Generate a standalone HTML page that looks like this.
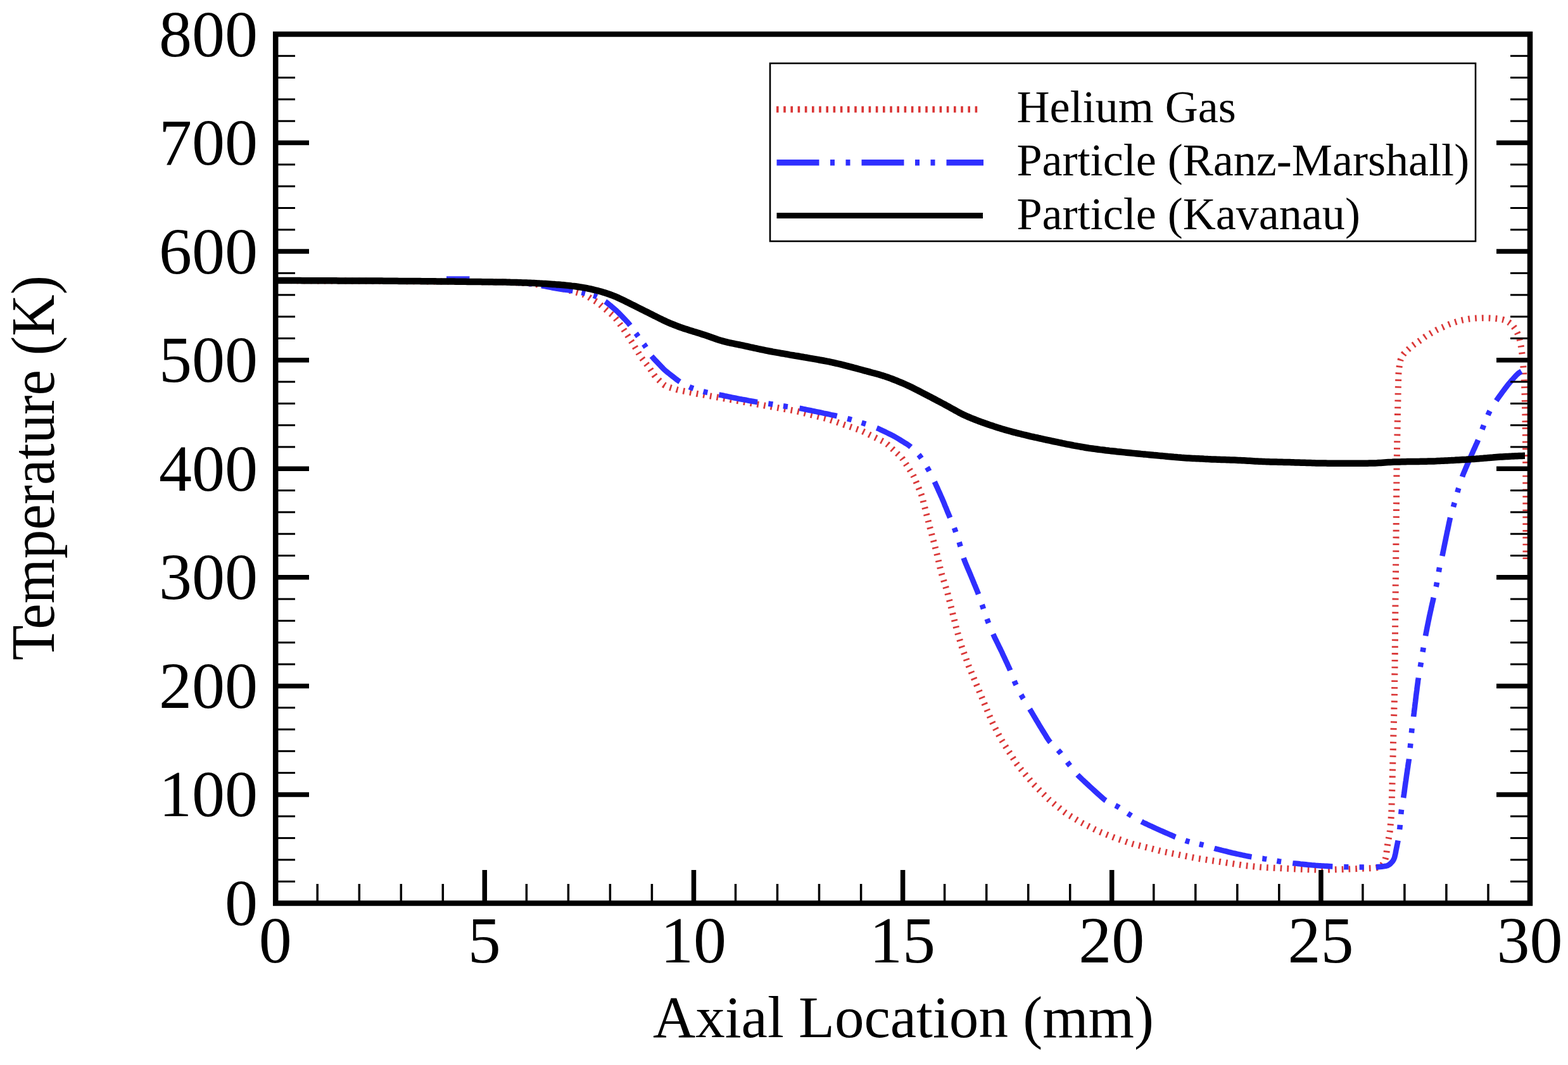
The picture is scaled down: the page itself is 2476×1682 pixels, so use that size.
<!DOCTYPE html>
<html><head><meta charset="utf-8"><title>Temperature vs Axial Location</title>
<style>html,body{margin:0;padding:0;background:#fff;overflow:hidden;}svg{display:block;}</style>
</head><body>
<svg width="2476" height="1682" viewBox="0 0 2476 1682">
<rect width="2476" height="1682" fill="#fff"/>
<defs><clipPath id="pc"><rect x="431" y="50" width="1985" height="1380"/></clipPath></defs>
<g clip-path="url(#pc)" fill="none" stroke-linejoin="round">
<path d="M436.2,443.0 L438.2,443.0 L441.0,443.0 L444.0,443.1 L447.0,443.1 L450.0,443.1 L453.0,443.1 L456.0,443.1 L459.0,443.1 L462.0,443.2 L465.0,443.2 L468.0,443.2 L471.0,443.2 L474.0,443.2 L477.0,443.2 L480.0,443.3 L483.0,443.3 L486.0,443.3 L489.0,443.3 L492.0,443.3 L495.0,443.3 L498.0,443.4 L501.0,443.4 L504.0,443.4 L507.0,443.4 L510.0,443.4 L513.0,443.4 L516.0,443.5 L519.0,443.5 L522.0,443.5 L525.0,443.5 L528.0,443.5 L531.0,443.5 L534.0,443.6 L537.0,443.6 L540.0,443.6 L543.0,443.6 L546.0,443.6 L549.0,443.6 L552.0,443.7 L555.0,443.7 L558.0,443.7 L561.0,443.7 L564.0,443.7 L567.0,443.7 L570.0,443.8 L573.0,443.8 L576.0,443.8 L579.0,443.8 L582.0,443.8 L585.0,443.8 L588.0,443.9 L591.0,443.9 L594.0,443.9 L597.0,443.9 L600.0,443.9 L603.0,444.0 L606.0,444.0 L609.0,444.0 L612.0,444.0 L615.0,444.0 L618.0,444.0 L621.0,444.1 L624.0,444.1 L627.0,444.1 L630.0,444.1 L633.0,444.1 L636.0,444.1 L639.0,444.2 L642.0,444.2 L645.0,444.2 L648.1,444.2 L651.1,444.2 L654.1,444.2 L657.1,444.3 L660.1,444.3 L663.1,444.3 L666.1,444.3 L669.1,444.3 L672.1,444.3 L675.1,444.4 L678.1,444.4 L681.1,444.4 L684.1,444.4 L687.1,444.4 L690.1,444.4 L693.1,444.5 L696.1,444.5 L699.1,444.5 L702.1,444.5 L705.1,444.6 L708.1,444.6 L711.1,444.6 L714.1,444.7 L717.1,444.7 L720.1,444.7 L723.1,444.8 L726.1,444.8 L729.1,444.8 L732.1,444.9 L735.1,444.9 L738.1,444.9 L741.1,445.0 L744.1,445.0 L747.1,445.0 L750.1,445.1 L753.1,445.1 L756.1,445.1 L759.1,445.1 L762.1,445.2 L765.1,445.2 L768.1,445.2 L771.1,445.3 L774.1,445.3 L777.1,445.3 L780.1,445.4 L783.1,445.4 L786.1,445.4 L789.1,445.5 L792.1,445.5 L795.1,445.5 L798.1,445.6 L801.1,445.7 L804.1,445.8 L807.1,446.0 L810.1,446.1 L813.1,446.3 L816.1,446.4 L819.1,446.6 L822.1,446.8 L825.1,446.9 L828.0,447.1 L831.0,447.2 L834.0,447.4 L837.0,447.7 L840.0,448.1 L843.0,448.5 L845.9,448.9 L848.9,449.4 L851.9,449.8 L854.8,450.2 L857.8,450.7 L860.8,451.1 L863.8,451.5 L866.7,452.0 L869.7,452.5 L872.6,453.1 L875.6,453.7 L878.5,454.3 L881.5,454.8 L884.4,455.4 L887.3,456.0 L890.3,456.6 L893.2,457.2 L896.1,457.9 L899.0,458.6 L901.9,459.4 L904.8,460.2 L907.7,461.0 L910.6,461.8 L913.5,462.7 L916.4,463.6 L919.2,464.4 L922.1,465.3 L924.9,466.4 L927.5,467.7 L930.0,469.3 L932.5,471.0 L935.1,472.6 L937.7,474.1 L940.2,475.6 L942.8,477.2 L945.2,479.0 L947.5,480.9 L949.7,482.9 L952.0,484.9 L954.2,486.8 L956.5,488.8 L958.8,490.8 L961.1,492.7 L963.4,494.6 L965.7,496.6 L967.9,498.5 L970.1,500.6 L972.1,502.8 L973.9,505.1 L975.7,507.5 L977.5,510.0 L979.3,512.4 L981.1,514.8 L982.8,517.3 L984.4,519.8 L986.1,522.3 L987.7,524.8 L989.3,527.3 L991.0,529.8 L992.6,532.4 L994.2,534.9 L995.8,537.4 L997.5,539.9 L999.1,542.4 L1000.7,545.0 L1002.3,547.5 L1003.9,550.1 L1005.4,552.7 L1006.9,555.2 L1008.5,557.8 L1010.0,560.4 L1011.6,562.9 L1013.3,565.4 L1015.1,567.8 L1016.9,570.2 L1018.8,572.5 L1020.7,574.9 L1022.5,577.2 L1024.3,579.6 L1026.1,582.0 L1027.8,584.5 L1029.4,587.0 L1031.1,589.5 L1032.8,592.0 L1034.6,594.4 L1036.6,596.6 L1038.7,598.7 L1040.9,600.8 L1043.0,602.9 L1045.2,604.9 L1047.4,606.9 L1049.8,608.7 L1052.4,610.1 L1055.2,611.1 L1058.0,612.0 L1060.9,612.9 L1063.7,613.8 L1066.6,614.6 L1069.5,615.5 L1072.4,616.2 L1075.3,616.8 L1078.3,617.4 L1081.2,618.0 L1084.2,618.5 L1087.1,619.1 L1090.1,619.7 L1093.0,620.3 L1096.0,620.8 L1098.9,621.4 L1101.8,622.0 L1104.8,622.5 L1107.8,623.0 L1110.7,623.5 L1113.7,624.1 L1116.6,624.6 L1119.6,625.1 L1122.5,625.6 L1125.5,626.1 L1128.4,626.7 L1131.4,627.2 L1134.3,627.7 L1137.3,628.2 L1140.3,628.8 L1143.2,629.3 L1146.2,629.8 L1149.1,630.3 L1152.1,630.8 L1155.0,631.4 L1158.0,631.9 L1160.9,632.4 L1163.9,632.9 L1166.9,633.4 L1169.8,633.9 L1172.8,634.5 L1175.7,635.0 L1178.7,635.5 L1181.6,636.0 L1184.6,636.5 L1187.5,637.0 L1190.5,637.6 L1193.5,638.1 L1196.4,638.6 L1199.4,639.1 L1202.3,639.6 L1205.3,640.1 L1208.2,640.7 L1211.2,641.2 L1214.2,641.7 L1217.1,642.2 L1220.1,642.7 L1223.0,643.2 L1226.0,643.7 L1228.9,644.2 L1231.9,644.8 L1234.9,645.3 L1237.8,645.8 L1240.8,646.3 L1243.7,646.8 L1246.7,647.3 L1249.6,647.8 L1252.6,648.3 L1255.5,648.9 L1258.5,649.5 L1261.4,650.2 L1264.3,650.9 L1267.2,651.7 L1270.1,652.4 L1273.0,653.2 L1275.9,653.9 L1278.8,654.6 L1281.8,655.4 L1284.7,656.1 L1287.6,656.8 L1290.5,657.6 L1293.4,658.3 L1296.3,659.0 L1299.2,659.8 L1302.1,660.5 L1305.0,661.3 L1307.9,662.1 L1310.8,663.0 L1313.6,664.0 L1316.4,664.9 L1319.3,665.9 L1322.1,666.9 L1324.9,667.9 L1327.8,668.9 L1330.6,669.9 L1333.4,670.9 L1336.3,671.8 L1339.1,672.8 L1341.9,673.8 L1344.8,674.8 L1347.6,675.8 L1350.4,676.8 L1353.3,677.8 L1356.1,678.8 L1358.9,679.8 L1361.7,681.0 L1364.4,682.3 L1367.1,683.6 L1369.8,685.0 L1372.4,686.3 L1375.1,687.6 L1377.8,689.0 L1380.5,690.3 L1383.2,691.6 L1385.9,693.0 L1388.6,694.3 L1391.2,695.6 L1393.9,697.0 L1396.6,698.4 L1399.1,700.0 L1401.4,701.8 L1403.6,703.8 L1405.8,705.9 L1408.0,707.9 L1410.2,709.9 L1412.4,712.0 L1414.6,714.0 L1416.8,716.1 L1419.0,718.1 L1421.2,720.2 L1423.3,722.3 L1425.2,724.6 L1426.9,727.1 L1428.5,729.6 L1430.1,732.1 L1431.8,734.6 L1433.4,737.2 L1435.1,739.7 L1436.7,742.2 L1438.3,744.7 L1440.0,747.2 L1441.5,749.8 L1442.9,752.4 L1444.2,755.1 L1445.3,757.9 L1446.5,760.7 L1447.6,763.4 L1448.8,766.2 L1449.9,769.0 L1451.1,771.7 L1452.2,774.5 L1453.4,777.3 L1454.5,780.1 L1455.5,782.9 L1456.3,785.8 L1457.1,788.7 L1457.8,791.6 L1458.5,794.5 L1459.3,797.4 L1460.0,800.3 L1460.8,803.2 L1461.5,806.1 L1462.2,809.0 L1463.0,812.0 L1463.7,814.9 L1464.4,817.8 L1465.2,820.7 L1466.0,823.6 L1466.7,826.5 L1467.5,829.4 L1468.2,832.3 L1469.0,835.2 L1469.7,838.1 L1470.5,841.0 L1471.3,843.9 L1472.0,846.8 L1472.8,849.7 L1473.6,852.6 L1474.4,855.5 L1475.2,858.4 L1476.0,861.3 L1476.7,864.2 L1477.5,867.1 L1478.3,870.0 L1479.0,872.9 L1479.7,875.8 L1480.4,878.7 L1481.0,881.7 L1481.7,884.6 L1482.4,887.5 L1483.1,890.4 L1483.7,893.4 L1484.4,896.3 L1485.1,899.2 L1485.8,902.1 L1486.6,905.0 L1487.4,907.9 L1488.3,910.8 L1489.2,913.6 L1490.1,916.5 L1491.0,919.4 L1491.9,922.2 L1492.8,925.1 L1493.7,928.0 L1494.5,930.8 L1495.4,933.7 L1496.3,936.6 L1497.0,939.5 L1497.8,942.4 L1498.5,945.3 L1499.2,948.2 L1500.0,951.1 L1500.7,954.0 L1501.4,956.9 L1502.1,959.8 L1502.9,962.8 L1503.6,965.7 L1504.3,968.6 L1505.0,971.5 L1505.8,974.4 L1506.5,977.3 L1507.2,980.2 L1508.0,983.1 L1508.7,986.0 L1509.4,989.0 L1510.1,991.9 L1510.9,994.8 L1511.7,997.7 L1512.5,1000.6 L1513.3,1003.4 L1514.2,1006.3 L1515.1,1009.2 L1515.9,1012.1 L1516.8,1014.9 L1517.6,1017.8 L1518.5,1020.7 L1519.4,1023.5 L1520.4,1026.4 L1521.5,1029.2 L1522.5,1032.0 L1523.5,1034.8 L1524.5,1037.6 L1525.6,1040.5 L1526.6,1043.3 L1527.6,1046.1 L1528.7,1048.9 L1529.7,1051.7 L1530.9,1054.5 L1532.0,1057.3 L1533.2,1060.0 L1534.3,1062.8 L1535.5,1065.6 L1536.7,1068.3 L1537.8,1071.1 L1539.0,1073.9 L1540.1,1076.6 L1541.3,1079.4 L1542.4,1082.2 L1543.6,1085.0 L1544.7,1087.7 L1545.9,1090.5 L1547.0,1093.3 L1548.2,1096.0 L1549.3,1098.8 L1550.5,1101.6 L1551.6,1104.4 L1552.8,1107.1 L1553.9,1109.9 L1555.1,1112.7 L1556.2,1115.4 L1557.4,1118.2 L1558.5,1121.0 L1559.7,1123.7 L1560.9,1126.5 L1562.0,1129.3 L1563.2,1132.1 L1564.3,1134.8 L1565.5,1137.6 L1566.7,1140.3 L1568.0,1143.0 L1569.3,1145.7 L1570.7,1148.4 L1572.1,1151.0 L1573.5,1153.7 L1574.9,1156.4 L1576.3,1159.0 L1577.7,1161.7 L1579.1,1164.3 L1580.5,1167.0 L1582.0,1169.5 L1583.6,1172.1 L1585.2,1174.6 L1586.8,1177.2 L1588.4,1179.7 L1590.0,1182.2 L1591.6,1184.8 L1593.2,1187.3 L1594.9,1189.8 L1596.5,1192.4 L1598.1,1194.9 L1599.7,1197.4 L1601.3,1200.0 L1602.9,1202.5 L1604.5,1205.0 L1606.3,1207.5 L1608.1,1209.8 L1610.0,1212.1 L1611.9,1214.5 L1613.8,1216.8 L1615.8,1219.1 L1617.7,1221.4 L1619.6,1223.7 L1621.5,1226.0 L1623.4,1228.3 L1625.4,1230.6 L1627.3,1232.9 L1629.2,1235.2 L1631.2,1237.5 L1633.2,1239.7 L1635.3,1241.8 L1637.4,1243.9 L1639.6,1246.0 L1641.7,1248.2 L1643.8,1250.3 L1645.9,1252.4 L1648.1,1254.5 L1650.2,1256.6 L1652.3,1258.7 L1654.5,1260.9 L1656.6,1262.9 L1658.9,1264.9 L1661.2,1266.8 L1663.5,1268.7 L1665.8,1270.6 L1668.2,1272.5 L1670.5,1274.3 L1672.9,1276.2 L1675.2,1278.1 L1677.5,1280.0 L1679.9,1281.9 L1682.3,1283.7 L1684.7,1285.4 L1687.3,1287.0 L1689.8,1288.5 L1692.4,1290.1 L1695.0,1291.6 L1697.6,1293.2 L1700.1,1294.7 L1702.7,1296.3 L1705.3,1297.8 L1707.9,1299.3 L1710.5,1300.7 L1713.2,1302.1 L1715.8,1303.5 L1718.5,1304.8 L1721.2,1306.2 L1723.9,1307.5 L1726.6,1308.8 L1729.3,1310.2 L1732.0,1311.5 L1734.7,1312.8 L1737.4,1314.0 L1740.2,1315.1 L1743.0,1316.2 L1745.8,1317.3 L1748.6,1318.5 L1751.3,1319.6 L1754.1,1320.7 L1756.9,1321.8 L1759.7,1322.9 L1762.5,1323.9 L1765.3,1324.9 L1768.2,1325.9 L1771.0,1326.9 L1773.8,1327.9 L1776.7,1328.9 L1779.5,1329.9 L1782.3,1330.9 L1785.2,1331.8 L1788.1,1332.7 L1790.9,1333.5 L1793.9,1334.2 L1796.8,1334.9 L1799.7,1335.6 L1802.6,1336.4 L1805.5,1337.1 L1808.4,1337.8 L1811.3,1338.5 L1814.2,1339.3 L1817.2,1340.0 L1820.1,1340.7 L1823.0,1341.5 L1825.9,1342.2 L1828.8,1342.9 L1831.7,1343.7 L1834.6,1344.4 L1837.5,1345.1 L1840.5,1345.7 L1843.4,1346.3 L1846.3,1346.9 L1849.3,1347.5 L1852.2,1348.1 L1855.2,1348.7 L1858.1,1349.2 L1861.1,1349.8 L1864.0,1350.4 L1867.0,1351.0 L1869.9,1351.6 L1872.8,1352.2 L1875.8,1352.8 L1878.7,1353.4 L1881.7,1354.0 L1884.6,1354.5 L1887.5,1355.1 L1890.5,1355.7 L1893.5,1356.1 L1896.4,1356.6 L1899.4,1357.0 L1902.4,1357.5 L1905.3,1357.9 L1908.3,1358.4 L1911.3,1358.8 L1914.2,1359.3 L1917.2,1359.7 L1920.2,1360.2 L1923.1,1360.6 L1926.1,1361.0 L1929.1,1361.5 L1932.0,1361.9 L1935.0,1362.3 L1938.0,1362.8 L1940.9,1363.2 L1943.9,1363.7 L1946.9,1364.1 L1949.8,1364.6 L1952.8,1365.0 L1955.8,1365.5 L1958.7,1365.9 L1961.7,1366.4 L1964.7,1366.8 L1967.7,1367.2 L1970.6,1367.5 L1973.6,1367.8 L1976.6,1368.1 L1979.6,1368.4 L1982.6,1368.7 L1985.6,1369.0 L1988.6,1369.3 L1991.5,1369.6 L1994.5,1369.8 L1997.5,1370.0 L2000.5,1370.2 L2003.5,1370.3 L2006.5,1370.5 L2009.5,1370.6 L2012.5,1370.8 L2015.5,1370.9 L2018.5,1371.1 L2021.5,1371.2 L2024.5,1371.4 L2027.5,1371.5 L2030.5,1371.7 L2033.5,1371.8 L2036.5,1372.0 L2039.5,1372.1 L2042.5,1372.3 L2045.5,1372.4 L2048.5,1372.6 L2051.5,1372.7 L2054.5,1372.8 L2057.5,1372.9 L2060.5,1373.1 L2063.5,1373.2 L2066.5,1373.3 L2069.5,1373.4 L2072.5,1373.5 L2075.5,1373.5 L2078.5,1373.6 L2081.5,1373.6 L2084.5,1373.6 L2087.5,1373.6 L2090.5,1373.7 L2093.5,1373.7 L2096.5,1373.6 L2099.5,1373.6 L2102.5,1373.5 L2105.5,1373.4 L2108.5,1373.3 L2111.5,1373.2 L2114.5,1373.1 L2117.5,1373.0 L2120.5,1372.9 L2123.5,1372.7 L2126.5,1372.6 L2129.5,1372.5 L2132.5,1372.4 L2135.5,1372.3 L2138.4,1372.2 L2141.4,1372.1 L2144.4,1371.9 L2147.4,1371.8 L2150.4,1371.7 L2153.4,1371.6 L2156.4,1371.5 L2159.4,1371.4 L2162.4,1371.3 L2165.4,1371.2 L2168.4,1371.1 L2171.4,1370.8 L2174.3,1370.3 L2177.2,1369.5 L2179.8,1368.3 L2182.1,1366.6 L2184.0,1364.4 L2185.6,1361.9 L2186.8,1359.2 L2187.7,1356.3 L2188.4,1353.4 L2188.9,1350.5 L2189.3,1347.5 L2189.7,1344.6 L2190.1,1341.6 L2190.4,1338.6 L2190.8,1335.6 L2191.3,1332.7 L2191.8,1329.7 L2192.3,1326.7 L2192.9,1323.8 L2193.4,1320.8 L2193.9,1317.9 L2194.4,1314.9 L2194.9,1312.0 L2195.2,1309.0 L2195.5,1306.0 L2195.7,1303.0 L2196.0,1300.0 L2196.2,1297.0 L2196.5,1294.0 L2196.7,1291.0 L2196.9,1288.1 L2197.1,1285.1 L2197.3,1282.1 L2197.4,1279.1 L2197.4,1276.1 L2197.5,1273.1 L2197.6,1270.1 L2197.7,1267.1 L2197.8,1264.1 L2197.9,1261.1 L2197.9,1258.1 L2198.0,1255.1 L2198.1,1252.1 L2198.2,1249.1 L2198.3,1246.1 L2198.4,1243.1 L2198.4,1240.1 L2198.5,1237.1 L2198.6,1234.1 L2198.7,1231.1 L2198.7,1228.1 L2198.8,1225.1 L2198.9,1222.1 L2198.9,1219.1 L2199.0,1216.1 L2199.1,1213.1 L2199.1,1210.1 L2199.2,1207.1 L2199.3,1204.1 L2199.4,1201.1 L2199.4,1198.1 L2199.5,1195.1 L2199.6,1192.1 L2199.6,1189.1 L2199.7,1186.1 L2199.8,1183.1 L2199.8,1180.1 L2199.9,1177.1 L2200.0,1174.1 L2200.1,1171.1 L2200.1,1168.1 L2200.2,1165.1 L2200.3,1162.1 L2200.4,1159.1 L2200.5,1156.1 L2200.5,1153.1 L2200.6,1150.1 L2200.7,1147.1 L2200.8,1144.1 L2200.9,1141.1 L2201.0,1138.1 L2201.0,1135.1 L2201.1,1132.1 L2201.2,1129.1 L2201.3,1126.1 L2201.4,1123.1 L2201.4,1120.1 L2201.5,1117.1 L2201.6,1114.1 L2201.7,1111.1 L2201.8,1108.1 L2201.9,1105.1 L2201.9,1102.1 L2202.0,1099.1 L2202.0,1096.1 L2202.1,1093.1 L2202.1,1090.1 L2202.1,1087.1 L2202.2,1084.1 L2202.2,1081.1 L2202.2,1078.1 L2202.2,1075.1 L2202.3,1072.1 L2202.3,1069.1 L2202.3,1066.1 L2202.4,1063.1 L2202.4,1060.1 L2202.4,1057.1 L2202.5,1054.1 L2202.5,1051.1 L2202.5,1048.1 L2202.5,1045.1 L2202.6,1042.1 L2202.6,1039.1 L2202.6,1036.1 L2202.7,1033.1 L2202.7,1030.1 L2202.7,1027.1 L2202.8,1024.1 L2202.8,1021.1 L2202.8,1018.1 L2202.8,1015.1 L2202.9,1012.1 L2202.9,1009.1 L2202.9,1006.1 L2203.0,1003.1 L2203.0,1000.1 L2203.0,997.1 L2203.1,994.1 L2203.1,991.1 L2203.1,988.1 L2203.1,985.1 L2203.2,982.1 L2203.2,979.1 L2203.2,976.1 L2203.3,973.1 L2203.3,970.1 L2203.3,967.1 L2203.4,964.1 L2203.4,961.1 L2203.4,958.1 L2203.4,955.1 L2203.5,952.1 L2203.5,949.1 L2203.5,946.1 L2203.6,943.1 L2203.6,940.1 L2203.6,937.1 L2203.7,934.1 L2203.7,931.0 L2203.7,928.0 L2203.7,925.0 L2203.8,922.0 L2203.8,919.0 L2203.8,916.0 L2203.9,913.0 L2203.9,910.0 L2203.9,907.0 L2204.0,904.0 L2204.0,901.0 L2204.0,898.0 L2204.0,895.0 L2204.1,892.0 L2204.1,889.0 L2204.1,886.0 L2204.2,883.0 L2204.2,880.0 L2204.2,877.0 L2204.2,874.0 L2204.3,871.0 L2204.3,868.0 L2204.3,865.0 L2204.4,862.0 L2204.4,859.0 L2204.4,856.0 L2204.4,853.0 L2204.5,850.0 L2204.5,847.0 L2204.5,844.0 L2204.6,841.0 L2204.6,838.0 L2204.6,835.0 L2204.6,832.0 L2204.7,829.0 L2204.7,826.0 L2204.7,823.0 L2204.7,820.0 L2204.8,817.0 L2204.8,814.0 L2204.8,811.0 L2204.9,808.0 L2204.9,805.0 L2204.9,802.0 L2204.9,799.0 L2205.0,796.0 L2205.0,793.0 L2205.0,790.0 L2205.1,787.0 L2205.1,784.0 L2205.1,781.0 L2205.1,778.0 L2205.2,775.0 L2205.2,772.0 L2205.2,769.0 L2205.3,766.0 L2205.3,763.0 L2205.3,760.0 L2205.3,757.0 L2205.4,754.0 L2205.4,751.0 L2205.4,748.0 L2205.5,745.0 L2205.5,742.0 L2205.5,739.0 L2205.6,736.0 L2205.6,733.0 L2205.7,730.0 L2205.7,727.0 L2205.8,724.0 L2205.8,721.0 L2205.9,718.0 L2205.9,715.0 L2206.0,712.0 L2206.0,709.0 L2206.1,706.0 L2206.1,703.0 L2206.2,700.0 L2206.2,697.0 L2206.3,694.0 L2206.3,691.0 L2206.4,688.0 L2206.4,685.0 L2206.5,682.0 L2206.5,679.0 L2206.6,676.0 L2206.6,673.0 L2206.7,670.0 L2206.7,667.0 L2206.8,664.0 L2206.8,661.0 L2206.9,658.0 L2206.9,655.0 L2207.0,652.0 L2207.0,649.0 L2207.1,646.0 L2207.2,643.0 L2207.2,640.0 L2207.3,637.0 L2207.4,634.0 L2207.4,631.0 L2207.5,628.0 L2207.6,625.0 L2207.6,622.0 L2207.7,619.0 L2207.8,616.0 L2207.8,613.0 L2207.9,610.0 L2208.0,607.0 L2208.0,604.0 L2208.1,601.0 L2208.2,598.0 L2208.2,595.0 L2208.3,592.0 L2208.5,589.0 L2208.7,586.0 L2209.1,583.0 L2209.5,580.1 L2209.9,577.1 L2210.3,574.1 L2210.8,571.2 L2211.6,568.3 L2212.7,565.6 L2214.1,562.9 L2215.6,560.4 L2217.4,558.0 L2219.5,555.9 L2221.6,553.7 L2223.8,551.7 L2226.0,549.7 L2228.3,547.8 L2230.7,545.9 L2233.1,544.1 L2235.5,542.4 L2238.0,540.7 L2240.5,539.0 L2243.0,537.3 L2245.4,535.6 L2247.8,533.8 L2250.2,532.0 L2252.7,530.4 L2255.3,528.8 L2257.9,527.3 L2260.5,525.7 L2263.0,524.2 L2265.7,522.8 L2268.3,521.3 L2271.0,520.0 L2273.7,518.8 L2276.4,517.5 L2279.2,516.3 L2281.9,515.0 L2284.6,513.8 L2287.4,512.6 L2290.2,511.5 L2293.0,510.4 L2295.8,509.4 L2298.7,508.5 L2301.5,507.6 L2304.4,506.8 L2307.3,506.1 L2310.3,505.4 L2313.2,504.8 L2316.1,504.3 L2319.1,503.8 L2322.1,503.4 L2325.0,503.0 L2328.0,502.7 L2331.0,502.5 L2334.0,502.3 L2337.0,502.3 L2340.0,502.2 L2343.0,502.2 L2346.0,502.2 L2349.0,502.3 L2352.0,502.4 L2355.0,502.6 L2358.0,502.8 L2361.0,503.0 L2364.0,503.3 L2367.0,503.6 L2369.9,504.1 L2372.8,504.7 L2375.7,505.6 L2378.4,506.7 L2381.1,508.1 L2383.6,509.7 L2385.9,511.5 L2388.1,513.6 L2390.1,515.8 L2391.9,518.2 L2393.4,520.7 L2394.8,523.4 L2396.1,526.0 L2397.2,528.8 L2398.2,531.7 L2399.1,534.5 L2399.9,537.4 L2400.6,540.3 L2401.1,543.3 L2401.7,546.2 L2402.1,549.2 L2402.6,552.1 L2403.0,555.1 L2403.4,558.1 L2403.8,561.1 L2404.1,564.0 L2404.4,567.0 L2404.7,570.0 L2404.9,573.0 L2405.2,576.0 L2405.4,579.0 L2405.6,582.0 L2405.8,585.0 L2406.0,588.0 L2406.2,591.0 L2406.3,594.0 L2406.5,597.0 L2406.7,600.0 L2406.9,603.0 L2407.0,606.0 L2407.1,609.0 L2407.2,612.0 L2407.3,615.0 L2407.4,618.0 L2407.5,620.9 L2407.6,623.9 L2407.6,626.9 L2407.7,629.9 L2407.8,632.9 L2407.9,635.9 L2408.0,638.9 L2408.0,641.9 L2408.1,644.9 L2408.1,647.9 L2408.2,650.9 L2408.3,653.9 L2408.3,656.9 L2408.4,659.9 L2408.4,662.9 L2408.5,665.9 L2408.5,668.9 L2408.6,671.9 L2408.7,674.9 L2408.7,677.9 L2408.8,681.0 L2408.8,684.0 L2408.9,687.0 L2408.9,690.0 L2409.0,693.0 L2409.0,696.0 L2409.0,699.0 L2409.1,702.0 L2409.1,705.0 L2409.1,708.0 L2409.1,711.0 L2409.1,714.0 L2409.1,717.0 L2409.2,720.0 L2409.2,723.0 L2409.2,726.0 L2409.2,729.0 L2409.2,732.0 L2409.2,735.0 L2409.3,738.0 L2409.3,741.0 L2409.3,744.0 L2409.3,747.0 L2409.3,750.0 L2409.3,753.0 L2409.3,756.0 L2409.3,759.0 L2409.3,762.0 L2409.3,765.0 L2409.3,768.0 L2409.3,771.0 L2409.3,774.0 L2409.3,777.0 L2409.3,780.0 L2409.4,783.0 L2409.4,786.0 L2409.4,789.0 L2409.4,792.0 L2409.4,795.0 L2409.4,798.0 L2409.4,801.0 L2409.4,804.0 L2409.4,807.0 L2409.4,810.0 L2409.4,813.0 L2409.4,816.0 L2409.4,819.0 L2409.4,822.0 L2409.4,825.0 L2409.4,828.0 L2409.4,831.0 L2409.4,834.0 L2409.4,837.0 L2409.4,840.0 L2409.4,843.0 L2409.4,846.0 L2409.4,849.0 L2409.4,852.0 L2409.4,855.0 L2409.5,858.0 L2409.5,861.0 L2409.5,864.0 L2409.5,867.0 L2409.5,870.0 L2409.5,873.0 L2409.5,876.0 L2409.5,879.0 L2409.5,882.0 L2409.5,885.0 L2409.5,887.9 L2409.5,890.2 L2409.5,890.8" stroke="#da3838" stroke-width="10" stroke-dasharray="2.7 8.1"/>
<line x1="705" y1="439.2" x2="741.5" y2="439.2" stroke="#3a3aff" stroke-width="6"/>
<path d="M436.6,443.0 L438.5,443.0 L441.1,443.0 L444.0,443.1 L447.0,443.1 L450.0,443.1 L453.0,443.1 L456.0,443.1 L459.0,443.1 L462.0,443.2 L465.0,443.2 L468.0,443.2 L471.0,443.2 L474.0,443.2 L477.0,443.2 L480.0,443.3 L483.0,443.3 L486.0,443.3 L489.0,443.3 L492.0,443.3 L495.0,443.3 L498.0,443.4 L501.0,443.4 L504.0,443.4 L507.0,443.4 L510.0,443.4 L513.0,443.4 L516.0,443.5 L519.0,443.5 L522.0,443.5 L525.0,443.5 L528.0,443.5 L531.0,443.5 L534.0,443.6 L537.0,443.6 L540.0,443.6 L543.0,443.6 L546.0,443.6 L549.0,443.6 L552.0,443.7 L555.0,443.7 L558.0,443.7 L561.0,443.7 L564.0,443.7 L567.0,443.7 L570.0,443.8 L573.0,443.8 L576.0,443.8 L579.0,443.8 L582.0,443.8 L585.0,443.8 L588.0,443.9 L591.0,443.9 L594.0,443.9 L597.0,443.9 L600.0,443.9 L603.0,444.0 L606.0,444.0 L609.0,444.0 L612.0,444.0 L615.0,444.0 L618.0,444.0 L621.0,444.1 L624.0,444.1 L627.0,444.1 L630.0,444.1 L633.1,444.1 L636.1,444.1 L639.1,444.2 L642.1,444.2 L645.1,444.2 L648.1,444.2 L651.1,444.2 L654.1,444.2 L657.1,444.3 L660.1,444.3 L663.1,444.3 L666.1,444.3 L669.1,444.3 L672.1,444.3 L675.1,444.4 L678.1,444.4 L681.1,444.4 L684.1,444.4 L687.1,444.4 L690.1,444.4 L693.1,444.5 L696.1,444.5 L699.1,444.5 L702.1,444.5 L705.1,444.6 L708.1,444.6 L711.1,444.6 L714.1,444.7 L717.1,444.7 L720.1,444.7 L723.1,444.8 L726.1,444.8 L729.1,444.8 L732.1,444.9 L735.1,444.9 L738.1,444.9 L741.1,445.0 L744.1,445.0 L747.1,445.0 L750.1,445.1 L753.1,445.1 L756.1,445.1 L759.1,445.1 L762.1,445.2 L765.1,445.2 L768.1,445.2 L771.1,445.3 L774.1,445.3 L777.1,445.3 L780.1,445.4 L783.1,445.4 L786.1,445.4 L789.1,445.5 L792.1,445.5 L795.1,445.6 L798.1,445.6 L801.1,445.7 L804.1,445.9 L807.1,446.1 L810.1,446.3 L813.1,446.5 L816.1,446.7 L819.1,446.9 L822.0,447.1 L825.0,447.3 L828.0,447.5 L831.0,447.7 L834.0,447.9 L837.0,448.1 L840.0,448.4 L843.0,448.7 L845.9,449.2 L848.9,449.7 L851.8,450.3 L854.8,450.9 L857.7,451.5 L860.6,452.1 L863.6,452.7 L866.5,453.3 L869.5,453.9 L872.4,454.5 L875.3,455.1 L878.3,455.6 L881.3,456.1 L884.2,456.5 L887.2,456.9 L890.2,457.3 L893.2,457.7 L896.1,458.1 L899.1,458.5 L902.1,458.9 L905.0,459.4 L908.0,459.9 L910.9,460.4 L913.9,461.0 L916.8,461.6 L919.8,462.3 L922.7,463.0 L925.6,463.7 L928.5,464.4 L931.4,465.1 L934.3,465.9 L937.2,466.7 L940.0,467.7 L942.7,469.0 L945.4,470.3 L948.0,471.7 L950.7,473.1 L953.3,474.6 L955.8,476.2 L958.2,477.9 L960.6,479.8 L962.9,481.7 L965.2,483.6 L967.4,485.6 L969.7,487.5 L972.0,489.5 L974.2,491.5 L976.4,493.6 L978.5,495.7 L980.6,497.9 L982.6,500.0 L984.7,502.2 L986.8,504.4 L988.8,506.6 L990.9,508.8 L992.8,511.0 L994.7,513.4 L996.5,515.7 L998.3,518.2 L1000.0,520.6 L1001.8,523.1 L1003.5,525.5 L1005.3,527.9 L1007.0,530.4 L1008.8,532.8 L1010.6,535.2 L1012.4,537.6 L1014.2,540.0 L1015.9,542.4 L1017.7,544.9 L1019.3,547.4 L1020.9,549.9 L1022.4,552.5 L1023.9,555.1 L1025.4,557.7 L1027.1,560.2 L1028.9,562.5 L1030.9,564.8 L1032.9,567.0 L1035.0,569.2 L1037.0,571.3 L1039.1,573.5 L1041.2,575.7 L1043.2,577.9 L1045.3,580.0 L1047.4,582.2 L1049.5,584.3 L1051.8,586.2 L1054.1,588.1 L1056.5,590.0 L1058.8,591.8 L1061.2,593.7 L1063.6,595.5 L1065.9,597.4 L1068.3,599.2 L1070.7,601.0 L1073.2,602.7 L1075.7,604.2 L1078.4,605.7 L1081.0,607.1 L1083.7,608.5 L1086.3,609.9 L1089.0,611.2 L1091.8,612.4 L1094.6,613.4 L1097.4,614.3 L1100.3,615.2 L1103.2,616.1 L1106.0,616.9 L1108.9,617.8 L1111.8,618.6 L1114.7,619.4 L1117.6,620.0 L1120.6,620.6 L1123.5,621.2 L1126.5,621.7 L1129.4,622.2 L1132.4,622.8 L1135.3,623.4 L1138.2,623.9 L1141.2,624.5 L1144.1,625.2 L1147.1,625.8 L1150.0,626.4 L1152.9,627.0 L1155.9,627.6 L1158.8,628.2 L1161.8,628.8 L1164.7,629.4 L1167.6,630.0 L1170.6,630.5 L1173.5,631.1 L1176.5,631.6 L1179.4,632.1 L1182.4,632.7 L1185.3,633.2 L1188.3,633.7 L1191.3,634.3 L1194.2,634.8 L1197.2,635.2 L1200.1,635.7 L1203.1,636.1 L1206.1,636.5 L1209.1,636.9 L1212.0,637.4 L1215.0,637.8 L1218.0,638.2 L1220.9,638.7 L1223.9,639.1 L1226.9,639.6 L1229.8,640.1 L1232.8,640.5 L1235.8,641.0 L1238.7,641.4 L1241.7,641.9 L1244.7,642.3 L1247.6,642.7 L1250.6,643.1 L1253.6,643.4 L1256.6,643.8 L1259.5,644.3 L1262.5,644.8 L1265.4,645.3 L1268.4,645.9 L1271.3,646.5 L1274.3,647.1 L1277.2,647.7 L1280.2,648.3 L1283.1,648.9 L1286.0,649.5 L1289.0,650.1 L1291.9,650.7 L1294.8,651.3 L1297.8,651.9 L1300.7,652.6 L1303.7,653.2 L1306.6,653.8 L1309.5,654.4 L1312.5,655.1 L1315.4,655.7 L1318.3,656.3 L1321.3,657.0 L1324.2,657.7 L1327.1,658.4 L1330.0,659.1 L1332.9,659.8 L1335.8,660.5 L1338.7,661.3 L1341.6,662.0 L1344.5,662.8 L1347.4,663.7 L1350.3,664.5 L1353.2,665.4 L1356.0,666.2 L1358.9,667.1 L1361.8,668.0 L1364.6,668.9 L1367.5,669.8 L1370.3,670.8 L1373.2,671.8 L1376.0,672.8 L1378.8,673.8 L1381.6,674.8 L1384.4,675.9 L1387.2,677.0 L1389.9,678.3 L1392.6,679.6 L1395.3,680.9 L1398.0,682.2 L1400.7,683.5 L1403.4,684.8 L1406.1,686.1 L1408.8,687.5 L1411.5,688.9 L1414.1,690.4 L1416.7,691.9 L1419.2,693.4 L1421.8,695.0 L1424.3,696.6 L1426.9,698.2 L1429.4,699.8 L1432.0,701.3 L1434.5,703.0 L1436.9,704.7 L1439.2,706.7 L1441.4,708.7 L1443.5,710.8 L1445.6,712.9 L1447.7,715.0 L1449.8,717.2 L1451.8,719.4 L1453.6,721.8 L1455.3,724.2 L1456.9,726.8 L1458.5,729.3 L1460.1,731.9 L1461.7,734.4 L1463.3,737.0 L1464.8,739.5 L1466.3,742.1 L1467.7,744.8 L1469.0,747.5 L1470.4,750.2 L1471.7,752.8 L1473.1,755.5 L1474.4,758.2 L1475.7,760.9 L1477.0,763.6 L1478.2,766.4 L1479.5,769.1 L1480.7,771.8 L1481.9,774.6 L1483.2,777.3 L1484.4,780.0 L1485.6,782.8 L1486.9,785.5 L1488.0,788.3 L1489.2,791.0 L1490.4,793.8 L1491.5,796.6 L1492.6,799.4 L1493.8,802.1 L1494.9,804.9 L1496.0,807.7 L1497.2,810.5 L1498.3,813.2 L1499.5,816.0 L1500.6,818.8 L1501.8,821.6 L1502.9,824.3 L1504.1,827.1 L1505.2,829.9 L1506.4,832.6 L1507.5,835.4 L1508.5,838.2 L1509.5,841.1 L1510.5,843.9 L1511.4,846.8 L1512.4,849.6 L1513.3,852.4 L1514.3,855.3 L1515.2,858.2 L1516.0,861.0 L1516.9,863.9 L1517.6,866.8 L1518.4,869.7 L1519.1,872.6 L1519.9,875.5 L1520.7,878.4 L1521.6,881.3 L1522.6,884.1 L1523.7,886.9 L1524.8,889.7 L1526.0,892.4 L1527.1,895.2 L1528.3,897.9 L1529.5,900.7 L1530.7,903.5 L1531.8,906.2 L1533.0,909.0 L1534.1,911.8 L1535.3,914.5 L1536.4,917.3 L1537.6,920.1 L1538.7,922.9 L1539.9,925.6 L1541.0,928.4 L1542.2,931.2 L1543.3,934.0 L1544.4,936.8 L1545.4,939.6 L1546.4,942.4 L1547.4,945.2 L1548.3,948.1 L1549.3,950.9 L1550.3,953.8 L1551.3,956.6 L1552.2,959.4 L1553.2,962.3 L1554.2,965.1 L1555.2,968.0 L1556.2,970.8 L1557.2,973.6 L1558.1,976.5 L1559.2,979.3 L1560.2,982.1 L1561.3,984.9 L1562.4,987.7 L1563.6,990.4 L1564.7,993.2 L1565.9,996.0 L1567.0,998.8 L1568.2,1001.5 L1569.5,1004.2 L1570.7,1006.9 L1572.0,1009.6 L1573.4,1012.3 L1574.7,1015.0 L1576.0,1017.7 L1577.3,1020.4 L1578.6,1023.1 L1580.0,1025.8 L1581.3,1028.5 L1582.6,1031.2 L1583.8,1033.9 L1585.1,1036.7 L1586.4,1039.4 L1587.6,1042.1 L1588.9,1044.8 L1590.2,1047.5 L1591.4,1050.3 L1592.7,1053.0 L1593.9,1055.7 L1595.1,1058.5 L1596.2,1061.3 L1597.3,1064.1 L1598.4,1066.9 L1599.4,1069.7 L1600.5,1072.5 L1601.6,1075.3 L1602.7,1078.0 L1604.0,1080.8 L1605.3,1083.5 L1606.7,1086.1 L1608.0,1088.8 L1609.4,1091.5 L1610.8,1094.1 L1612.1,1096.8 L1613.6,1099.4 L1615.0,1102.1 L1616.6,1104.6 L1618.2,1107.2 L1619.8,1109.7 L1621.3,1112.3 L1622.9,1114.8 L1624.5,1117.4 L1626.1,1119.9 L1627.6,1122.5 L1629.2,1125.1 L1630.7,1127.6 L1632.2,1130.2 L1633.8,1132.8 L1635.3,1135.4 L1636.8,1138.0 L1638.4,1140.5 L1639.9,1143.1 L1641.4,1145.7 L1643.0,1148.3 L1644.6,1150.8 L1646.1,1153.4 L1647.7,1155.9 L1649.3,1158.5 L1650.9,1161.0 L1652.4,1163.6 L1654.0,1166.1 L1655.7,1168.6 L1657.4,1171.0 L1659.4,1173.3 L1661.4,1175.5 L1663.6,1177.6 L1665.7,1179.7 L1667.8,1181.8 L1670.0,1183.9 L1672.0,1186.1 L1674.0,1188.4 L1675.8,1190.7 L1677.6,1193.1 L1679.4,1195.5 L1681.1,1198.0 L1682.9,1200.4 L1684.7,1202.8 L1686.5,1205.2 L1688.3,1207.6 L1690.2,1209.9 L1692.0,1212.3 L1693.9,1214.6 L1695.8,1216.9 L1697.7,1219.3 L1699.6,1221.6 L1701.6,1223.8 L1703.7,1226.0 L1705.9,1228.0 L1708.0,1230.1 L1710.2,1232.1 L1712.4,1234.2 L1714.6,1236.2 L1716.8,1238.3 L1719.0,1240.3 L1721.2,1242.4 L1723.4,1244.4 L1725.6,1246.4 L1727.9,1248.5 L1730.1,1250.5 L1732.3,1252.5 L1734.5,1254.5 L1736.8,1256.5 L1739.0,1258.5 L1741.3,1260.5 L1743.5,1262.4 L1745.9,1264.2 L1748.4,1265.8 L1751.0,1267.3 L1753.7,1268.6 L1756.4,1269.8 L1759.1,1271.1 L1761.8,1272.4 L1764.5,1273.8 L1767.1,1275.3 L1769.6,1276.9 L1772.1,1278.6 L1774.6,1280.3 L1777.0,1282.0 L1779.5,1283.7 L1782.0,1285.4 L1784.5,1287.0 L1787.0,1288.6 L1789.6,1290.2 L1792.2,1291.7 L1794.7,1293.2 L1797.3,1294.7 L1800.0,1296.2 L1802.6,1297.6 L1805.3,1299.0 L1808.0,1300.3 L1810.7,1301.5 L1813.4,1302.8 L1816.1,1304.1 L1818.9,1305.3 L1821.6,1306.6 L1824.3,1307.9 L1827.0,1309.1 L1829.8,1310.4 L1832.5,1311.6 L1835.3,1312.8 L1838.0,1314.0 L1840.8,1315.2 L1843.5,1316.4 L1846.3,1317.6 L1849.0,1318.8 L1851.8,1320.0 L1854.5,1321.2 L1857.3,1322.3 L1860.1,1323.4 L1862.9,1324.4 L1865.7,1325.4 L1868.6,1326.4 L1871.4,1327.4 L1874.2,1328.4 L1877.1,1329.2 L1880.0,1330.0 L1882.9,1330.6 L1885.9,1331.3 L1888.8,1331.9 L1891.7,1332.6 L1894.6,1333.3 L1897.6,1334.0 L1900.5,1334.7 L1903.4,1335.5 L1906.2,1336.4 L1909.1,1337.3 L1912.0,1338.2 L1914.8,1339.0 L1917.7,1339.9 L1920.6,1340.7 L1923.5,1341.4 L1926.4,1342.1 L1929.3,1342.9 L1932.2,1343.6 L1935.2,1344.3 L1938.1,1345.0 L1941.0,1345.8 L1943.9,1346.5 L1946.8,1347.2 L1949.7,1347.8 L1952.7,1348.5 L1955.6,1349.1 L1958.5,1349.7 L1961.5,1350.4 L1964.4,1351.0 L1967.3,1351.6 L1970.3,1352.2 L1973.2,1352.8 L1976.2,1353.4 L1979.1,1353.9 L1982.1,1354.4 L1985.1,1354.8 L1988.0,1355.2 L1991.0,1355.6 L1994.0,1355.9 L1996.9,1356.4 L1999.9,1356.8 L2002.9,1357.3 L2005.8,1357.8 L2008.8,1358.3 L2011.7,1358.9 L2014.7,1359.4 L2017.7,1359.9 L2020.6,1360.4 L2023.6,1360.8 L2026.5,1361.3 L2029.5,1361.7 L2032.5,1362.0 L2035.5,1362.4 L2038.5,1362.8 L2041.4,1363.2 L2044.4,1363.5 L2047.4,1363.8 L2050.4,1364.1 L2053.4,1364.5 L2056.3,1364.8 L2059.3,1365.1 L2062.3,1365.4 L2065.3,1365.7 L2068.3,1366.0 L2071.3,1366.3 L2074.3,1366.5 L2077.3,1366.8 L2080.2,1367.0 L2083.2,1367.2 L2086.2,1367.4 L2089.2,1367.5 L2092.2,1367.7 L2095.2,1367.9 L2098.2,1368.1 L2101.2,1368.3 L2104.2,1368.5 L2107.2,1368.6 L2110.2,1368.7 L2113.2,1368.8 L2116.2,1368.9 L2119.2,1369.0 L2122.2,1369.1 L2125.2,1369.2 L2128.2,1369.3 L2131.2,1369.3 L2134.2,1369.4 L2137.2,1369.4 L2140.2,1369.4 L2143.2,1369.4 L2146.2,1369.5 L2149.2,1369.5 L2152.2,1369.5 L2155.2,1369.5 L2158.2,1369.4 L2161.2,1369.4 L2164.2,1369.4 L2167.2,1369.4 L2170.2,1369.3 L2173.2,1369.3 L2176.2,1369.1 L2179.2,1368.9 L2182.2,1368.6 L2185.1,1368.3 L2188.1,1367.8 L2190.8,1367.1 L2193.3,1365.8 L2195.6,1364.0 L2197.6,1361.9 L2199.5,1359.7 L2200.9,1357.2 L2202.0,1354.5 L2202.7,1351.6 L2203.4,1348.7 L2204.0,1345.7 L2204.5,1342.8 L2205.1,1339.9 L2205.7,1336.9 L2206.3,1334.0 L2206.9,1331.0 L2207.5,1328.1 L2208.0,1325.1 L2208.5,1322.2 L2208.9,1319.2 L2209.3,1316.2 L2209.7,1313.3 L2210.0,1310.3 L2210.4,1307.3 L2210.7,1304.3 L2210.9,1301.3 L2211.2,1298.3 L2211.4,1295.3 L2211.7,1292.3 L2211.9,1289.4 L2212.2,1286.4 L2212.5,1283.4 L2212.8,1280.4 L2213.3,1277.4 L2213.8,1274.5 L2214.3,1271.5 L2214.7,1268.6 L2215.2,1265.6 L2215.7,1262.6 L2216.2,1259.7 L2216.6,1256.7 L2217.1,1253.7 L2217.5,1250.8 L2217.9,1247.8 L2218.3,1244.8 L2218.7,1241.8 L2219.1,1238.9 L2219.5,1235.9 L2220.0,1232.9 L2220.4,1230.0 L2220.8,1227.0 L2221.2,1224.0 L2221.7,1221.0 L2222.1,1218.1 L2222.5,1215.1 L2223.0,1212.1 L2223.4,1209.2 L2223.8,1206.2 L2224.3,1203.2 L2224.7,1200.3 L2225.0,1197.3 L2225.4,1194.3 L2225.7,1191.3 L2226.0,1188.3 L2226.3,1185.3 L2226.6,1182.4 L2226.9,1179.4 L2227.2,1176.4 L2227.5,1173.4 L2227.7,1170.4 L2228.0,1167.4 L2228.2,1164.4 L2228.5,1161.4 L2228.8,1158.5 L2229.1,1155.5 L2229.4,1152.5 L2229.7,1149.5 L2230.1,1146.5 L2230.5,1143.6 L2230.9,1140.6 L2231.4,1137.6 L2231.8,1134.6 L2232.1,1131.7 L2232.5,1128.7 L2232.9,1125.7 L2233.2,1122.7 L2233.6,1119.8 L2234.0,1116.8 L2234.3,1113.8 L2234.7,1110.8 L2235.1,1107.8 L2235.4,1104.9 L2235.8,1101.9 L2236.1,1098.9 L2236.5,1095.9 L2236.9,1092.9 L2237.3,1090.0 L2237.6,1087.0 L2238.0,1084.0 L2238.4,1081.0 L2238.8,1078.1 L2239.1,1075.1 L2239.6,1072.1 L2240.0,1069.1 L2240.5,1066.2 L2241.0,1063.2 L2241.5,1060.3 L2242.0,1057.3 L2242.6,1054.4 L2243.1,1051.4 L2243.6,1048.4 L2244.1,1045.5 L2244.5,1042.5 L2245.0,1039.6 L2245.5,1036.6 L2245.9,1033.6 L2246.4,1030.7 L2246.9,1027.7 L2247.4,1024.7 L2247.9,1021.8 L2248.4,1018.8 L2248.9,1015.9 L2249.4,1012.9 L2250.0,1010.0 L2250.5,1007.0 L2251.0,1004.1 L2251.6,1001.1 L2252.2,998.2 L2252.8,995.2 L2253.3,992.3 L2253.9,989.3 L2254.5,986.4 L2255.1,983.5 L2255.7,980.5 L2256.3,977.6 L2256.9,974.6 L2257.5,971.7 L2258.2,968.8 L2258.8,965.8 L2259.5,962.9 L2260.1,960.0 L2260.8,957.0 L2261.4,954.1 L2262.1,951.2 L2262.8,948.3 L2263.4,945.3 L2264.1,942.4 L2264.7,939.5 L2265.4,936.6 L2266.1,933.6 L2266.8,930.7 L2267.4,927.8 L2268.1,924.9 L2268.7,921.9 L2269.2,919.0 L2269.7,916.0 L2270.2,913.1 L2270.7,910.1 L2271.2,907.1 L2271.7,904.2 L2272.2,901.2 L2272.7,898.3 L2273.3,895.3 L2274.0,892.4 L2274.7,889.5 L2275.4,886.6 L2276.1,883.6 L2276.8,880.7 L2277.4,877.8 L2278.1,874.9 L2278.7,871.9 L2279.3,869.0 L2279.9,866.0 L2280.5,863.1 L2281.1,860.2 L2281.7,857.2 L2282.3,854.3 L2282.9,851.3 L2283.5,848.4 L2284.1,845.5 L2284.7,842.5 L2285.3,839.6 L2286.0,836.7 L2286.6,833.7 L2287.2,830.8 L2287.8,827.8 L2288.4,824.9 L2289.1,822.0 L2289.7,819.0 L2290.4,816.1 L2291.2,813.2 L2292.0,810.3 L2292.8,807.5 L2293.7,804.6 L2294.6,801.7 L2295.4,798.8 L2296.2,796.0 L2297.1,793.1 L2297.9,790.2 L2298.7,787.3 L2299.5,784.4 L2300.3,781.5 L2301.1,778.6 L2301.9,775.7 L2302.7,772.8 L2303.6,770.0 L2304.5,767.1 L2305.4,764.3 L2306.3,761.4 L2307.2,758.5 L2308.2,755.7 L2309.1,752.8 L2310.1,750.0 L2311.2,747.2 L2312.4,744.5 L2313.6,741.7 L2314.7,738.9 L2315.9,736.2 L2317.1,733.4 L2318.3,730.7 L2319.5,727.9 L2320.7,725.2 L2321.9,722.4 L2323.1,719.7 L2324.3,716.9 L2325.5,714.2 L2326.7,711.4 L2328.0,708.7 L2329.2,706.0 L2330.4,703.2 L2331.7,700.5 L2332.9,697.7 L2334.0,695.0 L2335.2,692.2 L2336.2,689.4 L2337.3,686.6 L2338.4,683.8 L2339.4,681.0 L2340.5,678.2 L2341.5,675.4 L2342.6,672.6 L2343.7,669.8 L2344.8,667.0 L2346.0,664.2 L2347.1,661.4 L2348.2,658.6 L2349.4,655.9 L2350.6,653.1 L2351.9,650.5 L2353.3,647.8 L2354.9,645.3 L2356.5,642.7 L2358.0,640.2 L2359.6,637.6 L2361.2,635.1 L2362.9,632.6 L2364.6,630.1 L2366.3,627.7 L2368.1,625.2 L2369.9,622.8 L2371.6,620.4 L2373.4,618.0 L2375.2,615.6 L2377.0,613.2 L2378.8,610.8 L2380.6,608.4 L2382.5,606.1 L2384.5,603.8 L2386.4,601.5 L2388.4,599.3 L2390.4,597.0 L2392.4,594.7 L2394.4,592.6 L2396.6,590.5 L2398.9,588.7 L2401.4,587.1 L2403.9,585.6 L2406.3,584.2 L2408.2,583.1 L2408.6,582.8" stroke="#2f2fff" stroke-width="8.6" stroke-dasharray="50.25 14.13 5.76 13.61 5.76 15.18 50.25 14.13 5.76 13.61 5.76 15.18 50.25 14.13 5.76 13.61 5.76 15.18 50.25 14.13 5.76 13.61 5.76 15.18 50.25 14.13 5.76 13.61 5.76 15.18 54.67 15.38 6.26 14.81 6.26 16.51 60.43 17.00 6.92 16.37 6.92 18.26 61.93 17.42 7.10 16.77 7.10 18.71 60.49 17.01 6.93 16.38 6.93 18.27 61.86 17.40 7.09 16.75 7.09 18.69 61.92 17.42 7.10 16.77 7.10 18.71 61.92 17.42 7.10 16.77 7.10 18.71 63.36 17.82 7.26 17.16 7.26 19.14 61.88 17.40 7.09 16.76 7.09 18.69 60.42 16.99 6.92 16.36 6.92 18.25 59.04 16.60 6.76 15.99 6.76 17.83 60.49 17.01 6.93 16.38 6.93 18.27 63.37 17.82 7.26 17.16 7.26 19.14 62.92 17.70 7.21 17.04 7.21 19.01 61.93 17.42 7.10 16.77 7.10 18.71 61.93 17.42 7.10 16.77 7.10 18.71 61.93 17.42 7.10 16.77 7.10 18.71 61.93 17.42 7.10 16.77 7.10 18.71 63.35 17.82 7.26 17.16 7.26 19.14 61.44 17.28 7.04 16.64 7.04 18.56 61.44 17.28 7.04 16.64 7.04 18.56"/>
<path d="M439.0,443.0 L440.7,443.0 L442.7,443.0 L445.0,443.0 L447.6,443.0 L450.3,443.1 L453.1,443.1 L456.1,443.1 L459.0,443.1 L462.0,443.1 L465.0,443.1 L468.0,443.1 L471.0,443.1 L474.0,443.1 L477.0,443.2 L480.0,443.2 L483.0,443.2 L486.0,443.2 L489.0,443.2 L492.0,443.2 L495.0,443.2 L498.0,443.2 L501.0,443.2 L504.0,443.3 L507.0,443.3 L510.0,443.3 L513.0,443.3 L516.0,443.3 L519.0,443.3 L522.0,443.3 L525.0,443.3 L528.0,443.3 L531.0,443.3 L534.0,443.4 L537.0,443.4 L540.0,443.4 L543.0,443.4 L546.0,443.4 L549.0,443.4 L552.0,443.4 L555.0,443.4 L558.0,443.4 L561.0,443.5 L564.0,443.5 L567.0,443.5 L570.0,443.5 L573.0,443.5 L576.0,443.5 L579.0,443.5 L582.0,443.5 L585.0,443.5 L588.0,443.6 L591.0,443.6 L594.0,443.6 L597.0,443.6 L600.0,443.6 L603.0,443.6 L606.0,443.7 L609.0,443.7 L612.0,443.7 L615.0,443.7 L618.0,443.8 L621.0,443.8 L624.0,443.8 L627.0,443.8 L630.0,443.9 L633.0,443.9 L636.0,443.9 L639.0,443.9 L642.0,444.0 L645.1,444.0 L648.1,444.0 L651.1,444.0 L654.1,444.1 L657.1,444.1 L660.1,444.1 L663.1,444.1 L666.1,444.2 L669.1,444.2 L672.1,444.2 L675.1,444.2 L678.1,444.3 L681.1,444.3 L684.1,444.3 L687.1,444.3 L690.1,444.4 L693.1,444.4 L696.1,444.4 L699.1,444.5 L702.1,444.5 L705.1,444.5 L708.1,444.5 L711.1,444.6 L714.1,444.6 L717.1,444.6 L720.1,444.7 L723.1,444.7 L726.1,444.7 L729.1,444.8 L732.1,444.8 L735.1,444.8 L738.1,444.9 L741.1,444.9 L744.1,445.0 L747.1,445.0 L750.1,445.0 L753.1,445.1 L756.1,445.1 L759.1,445.1 L762.1,445.2 L765.1,445.2 L768.1,445.2 L771.1,445.3 L774.1,445.3 L777.1,445.3 L780.1,445.4 L783.1,445.4 L786.1,445.4 L789.1,445.5 L792.1,445.5 L795.1,445.6 L798.1,445.6 L801.1,445.7 L804.1,445.8 L807.1,445.9 L810.1,445.9 L813.1,446.0 L816.1,446.1 L819.1,446.2 L822.1,446.3 L825.1,446.4 L828.1,446.5 L831.1,446.6 L834.1,446.7 L837.1,446.8 L840.1,447.0 L843.1,447.1 L846.1,447.2 L849.1,447.4 L852.1,447.6 L855.0,447.7 L858.0,447.9 L861.0,448.1 L864.0,448.3 L867.0,448.5 L870.0,448.7 L873.0,448.9 L876.0,449.1 L879.0,449.4 L882.0,449.6 L885.0,449.8 L888.0,450.1 L891.0,450.3 L893.9,450.6 L896.9,450.9 L899.9,451.2 L902.9,451.6 L905.9,451.9 L908.8,452.3 L911.8,452.7 L914.8,453.2 L917.7,453.6 L920.7,454.1 L923.7,454.6 L926.6,455.2 L929.5,455.8 L932.5,456.4 L935.4,457.1 L938.3,457.8 L941.2,458.5 L944.1,459.2 L947.0,460.0 L949.9,460.8 L952.8,461.7 L955.6,462.6 L958.5,463.5 L961.3,464.4 L964.1,465.5 L967.0,466.5 L969.7,467.6 L972.5,468.7 L975.2,469.9 L978.0,471.2 L980.7,472.5 L983.4,473.8 L986.1,475.1 L988.8,476.4 L991.5,477.7 L994.1,479.1 L996.8,480.4 L999.5,481.8 L1002.2,483.1 L1004.9,484.4 L1007.6,485.8 L1010.2,487.1 L1012.9,488.5 L1015.6,489.8 L1018.3,491.2 L1021.0,492.5 L1023.7,493.8 L1026.3,495.2 L1029.0,496.5 L1031.7,497.9 L1034.4,499.2 L1037.1,500.6 L1039.7,501.9 L1042.4,503.3 L1045.1,504.6 L1047.8,505.9 L1050.5,507.1 L1053.3,508.4 L1056.0,509.6 L1058.8,510.8 L1061.5,511.9 L1064.3,513.0 L1067.1,514.1 L1069.9,515.2 L1072.7,516.2 L1075.6,517.3 L1078.4,518.2 L1081.2,519.2 L1084.1,520.1 L1086.9,521.0 L1089.8,521.9 L1092.7,522.8 L1095.5,523.7 L1098.4,524.5 L1101.3,525.4 L1104.1,526.3 L1107.0,527.2 L1109.9,528.2 L1112.7,529.1 L1115.5,530.0 L1118.4,531.0 L1121.2,532.0 L1124.0,533.0 L1126.9,534.0 L1129.7,535.0 L1132.5,536.0 L1135.4,536.9 L1138.2,537.8 L1141.1,538.6 L1144.0,539.4 L1146.9,540.1 L1149.8,540.8 L1152.7,541.5 L1155.7,542.1 L1158.6,542.7 L1161.5,543.3 L1164.5,543.9 L1167.4,544.5 L1170.4,545.1 L1173.3,545.7 L1176.2,546.4 L1179.2,547.0 L1182.1,547.6 L1185.0,548.3 L1188.0,548.9 L1190.9,549.6 L1193.8,550.2 L1196.7,550.8 L1199.7,551.5 L1202.6,552.1 L1205.6,552.7 L1208.5,553.3 L1211.4,553.9 L1214.4,554.5 L1217.3,555.0 L1220.3,555.6 L1223.2,556.1 L1226.2,556.6 L1229.1,557.1 L1232.1,557.7 L1235.1,558.2 L1238.0,558.7 L1241.0,559.2 L1243.9,559.7 L1246.9,560.3 L1249.8,560.8 L1252.8,561.3 L1255.7,561.8 L1258.7,562.3 L1261.7,562.8 L1264.6,563.3 L1267.6,563.8 L1270.5,564.3 L1273.5,564.8 L1276.4,565.3 L1279.4,565.9 L1282.4,566.4 L1285.3,566.9 L1288.3,567.4 L1291.2,567.9 L1294.2,568.5 L1297.1,569.0 L1300.1,569.5 L1303.0,570.1 L1306.0,570.7 L1308.9,571.2 L1311.9,571.8 L1314.8,572.5 L1317.7,573.1 L1320.6,573.8 L1323.6,574.5 L1326.5,575.2 L1329.4,575.9 L1332.3,576.6 L1335.2,577.4 L1338.1,578.1 L1341.0,578.9 L1343.9,579.6 L1346.8,580.4 L1349.7,581.2 L1352.6,581.9 L1355.5,582.7 L1358.4,583.5 L1361.3,584.3 L1364.2,585.1 L1367.1,585.8 L1370.0,586.6 L1372.9,587.4 L1375.8,588.2 L1378.7,589.0 L1381.6,589.7 L1384.5,590.5 L1387.4,591.3 L1390.3,592.2 L1393.1,593.0 L1396.0,593.9 L1398.8,594.9 L1401.7,595.8 L1404.5,596.9 L1407.3,597.9 L1410.1,599.0 L1412.9,600.1 L1415.7,601.2 L1418.4,602.3 L1421.2,603.5 L1424.0,604.6 L1426.7,605.8 L1429.5,607.0 L1432.2,608.2 L1434.9,609.5 L1437.6,610.8 L1440.3,612.1 L1443.0,613.4 L1445.7,614.8 L1448.4,616.2 L1451.0,617.5 L1453.7,618.9 L1456.4,620.3 L1459.0,621.7 L1461.7,623.1 L1464.4,624.4 L1467.0,625.8 L1469.7,627.2 L1472.3,628.6 L1475.0,630.0 L1477.6,631.4 L1480.3,632.8 L1482.9,634.2 L1485.6,635.6 L1488.2,637.0 L1490.9,638.4 L1493.5,639.9 L1496.2,641.3 L1498.8,642.7 L1501.4,644.2 L1504.0,645.7 L1506.7,647.1 L1509.3,648.6 L1511.9,650.0 L1514.5,651.5 L1517.2,652.9 L1519.8,654.2 L1522.5,655.5 L1525.3,656.8 L1528.0,658.0 L1530.8,659.1 L1533.5,660.3 L1536.3,661.4 L1539.1,662.5 L1541.9,663.6 L1544.7,664.7 L1547.5,665.7 L1550.3,666.8 L1553.1,667.8 L1556.0,668.8 L1558.8,669.8 L1561.6,670.8 L1564.5,671.7 L1567.3,672.6 L1570.2,673.6 L1573.0,674.5 L1575.9,675.4 L1578.8,676.3 L1581.6,677.2 L1584.5,678.0 L1587.4,678.9 L1590.3,679.7 L1593.2,680.5 L1596.0,681.3 L1598.9,682.1 L1601.8,682.8 L1604.8,683.6 L1607.7,684.3 L1610.6,685.0 L1613.5,685.8 L1616.4,686.5 L1619.3,687.2 L1622.2,687.9 L1625.2,688.6 L1628.1,689.3 L1631.0,689.9 L1633.9,690.6 L1636.9,691.2 L1639.8,691.9 L1642.7,692.5 L1645.6,693.2 L1648.6,693.8 L1651.5,694.5 L1654.4,695.1 L1657.4,695.7 L1660.3,696.4 L1663.2,697.0 L1666.2,697.6 L1669.1,698.2 L1672.1,698.8 L1675.0,699.4 L1677.9,700.1 L1680.9,700.7 L1683.8,701.3 L1686.7,701.8 L1689.7,702.4 L1692.6,703.0 L1695.6,703.6 L1698.5,704.1 L1701.5,704.7 L1704.4,705.2 L1707.4,705.7 L1710.3,706.2 L1713.3,706.7 L1716.3,707.2 L1719.2,707.7 L1722.2,708.1 L1725.2,708.5 L1728.1,708.9 L1731.1,709.3 L1734.1,709.7 L1737.1,710.1 L1740.0,710.4 L1743.0,710.8 L1746.0,711.2 L1749.0,711.5 L1752.0,711.9 L1754.9,712.2 L1757.9,712.5 L1760.9,712.8 L1763.9,713.2 L1766.9,713.5 L1769.9,713.8 L1772.9,714.1 L1775.8,714.4 L1778.8,714.7 L1781.8,715.0 L1784.8,715.3 L1787.8,715.6 L1790.8,715.9 L1793.8,716.2 L1796.7,716.5 L1799.7,716.8 L1802.7,717.1 L1805.7,717.4 L1808.7,717.6 L1811.7,717.9 L1814.7,718.2 L1817.6,718.5 L1820.6,718.8 L1823.6,719.1 L1826.6,719.3 L1829.6,719.6 L1832.6,719.9 L1835.6,720.1 L1838.6,720.4 L1841.6,720.7 L1844.5,721.0 L1847.5,721.2 L1850.5,721.5 L1853.5,721.8 L1856.5,722.0 L1859.5,722.3 L1862.5,722.5 L1865.5,722.8 L1868.5,723.0 L1871.5,723.2 L1874.4,723.4 L1877.4,723.5 L1880.4,723.7 L1883.4,723.9 L1886.4,724.0 L1889.4,724.2 L1892.4,724.3 L1895.4,724.5 L1898.4,724.6 L1901.4,724.8 L1904.4,724.9 L1907.4,725.1 L1910.4,725.2 L1913.4,725.4 L1916.4,725.5 L1919.4,725.6 L1922.4,725.7 L1925.4,725.8 L1928.4,725.9 L1931.4,726.0 L1934.4,726.1 L1937.4,726.2 L1940.4,726.3 L1943.4,726.4 L1946.4,726.5 L1949.4,726.6 L1952.4,726.7 L1955.4,726.9 L1958.4,727.0 L1961.4,727.2 L1964.4,727.3 L1967.4,727.5 L1970.4,727.7 L1973.4,727.8 L1976.4,728.0 L1979.4,728.2 L1982.3,728.4 L1985.3,728.5 L1988.3,728.7 L1991.3,728.8 L1994.3,728.9 L1997.3,729.1 L2000.3,729.2 L2003.3,729.3 L2006.3,729.4 L2009.3,729.4 L2012.3,729.5 L2015.3,729.6 L2018.3,729.7 L2021.3,729.7 L2024.3,729.8 L2027.3,729.9 L2030.3,730.0 L2033.3,730.0 L2036.3,730.1 L2039.3,730.2 L2042.3,730.3 L2045.3,730.4 L2048.3,730.5 L2051.3,730.6 L2054.3,730.7 L2057.3,730.8 L2060.3,730.8 L2063.3,730.9 L2066.3,731.0 L2069.3,731.1 L2072.3,731.2 L2075.3,731.3 L2078.3,731.4 L2081.3,731.4 L2084.3,731.5 L2087.3,731.6 L2090.3,731.6 L2093.3,731.6 L2096.3,731.7 L2099.3,731.7 L2102.3,731.7 L2105.3,731.7 L2108.3,731.8 L2111.3,731.8 L2114.3,731.8 L2117.3,731.8 L2120.3,731.8 L2123.3,731.8 L2126.3,731.8 L2129.3,731.8 L2132.3,731.8 L2135.3,731.8 L2138.3,731.8 L2141.3,731.8 L2144.3,731.8 L2147.3,731.8 L2150.3,731.8 L2153.3,731.7 L2156.3,731.7 L2159.3,731.7 L2162.3,731.6 L2165.3,731.6 L2168.3,731.5 L2171.3,731.4 L2174.3,731.3 L2177.3,731.1 L2180.3,730.9 L2183.3,730.7 L2186.3,730.5 L2189.3,730.3 L2192.3,730.1 L2195.3,729.9 L2198.3,729.8 L2201.3,729.6 L2204.3,729.5 L2207.3,729.4 L2210.3,729.4 L2213.3,729.3 L2216.3,729.3 L2219.3,729.2 L2222.3,729.1 L2225.3,729.1 L2228.3,729.0 L2231.3,729.0 L2234.3,729.0 L2237.3,728.9 L2240.3,728.9 L2243.3,728.8 L2246.3,728.8 L2249.3,728.7 L2252.3,728.7 L2255.3,728.6 L2258.3,728.6 L2261.3,728.5 L2264.3,728.4 L2267.3,728.3 L2270.3,728.1 L2273.2,728.0 L2276.2,727.8 L2279.2,727.7 L2282.2,727.5 L2285.2,727.4 L2288.2,727.2 L2291.2,727.1 L2294.2,726.9 L2297.2,726.8 L2300.2,726.6 L2303.2,726.5 L2306.2,726.3 L2309.2,726.1 L2312.2,725.9 L2315.2,725.8 L2318.2,725.6 L2321.2,725.4 L2324.2,725.1 L2327.2,724.9 L2330.2,724.7 L2333.2,724.4 L2336.1,724.2 L2339.1,723.9 L2342.1,723.7 L2345.1,723.4 L2348.1,723.2 L2351.1,722.9 L2354.1,722.7 L2357.1,722.5 L2360.1,722.2 L2363.1,722.0 L2366.0,721.8 L2369.0,721.6 L2372.0,721.4 L2375.0,721.2 L2378.0,721.0 L2381.0,720.9 L2384.0,720.7 L2387.0,720.6 L2390.0,720.4 L2392.9,720.3 L2395.8,720.2 L2398.6,720.1 L2401.2,720.0 L2403.6,719.9 L2405.7,719.8 L2407.5,719.7 L2408.0,719.7" stroke="#000" stroke-width="10.5"/>
</g>
<line x1="435" y1="1392.2" x2="466" y2="1392.2" stroke="#000" stroke-width="3"/>
<line x1="2416" y1="1392.2" x2="2385" y2="1392.2" stroke="#000" stroke-width="3"/>
<line x1="435" y1="1357.9" x2="466" y2="1357.9" stroke="#000" stroke-width="3"/>
<line x1="2416" y1="1357.9" x2="2385" y2="1357.9" stroke="#000" stroke-width="3"/>
<line x1="435" y1="1323.6" x2="466" y2="1323.6" stroke="#000" stroke-width="3"/>
<line x1="2416" y1="1323.6" x2="2385" y2="1323.6" stroke="#000" stroke-width="3"/>
<line x1="435" y1="1289.2" x2="466" y2="1289.2" stroke="#000" stroke-width="3"/>
<line x1="2416" y1="1289.2" x2="2385" y2="1289.2" stroke="#000" stroke-width="3"/>
<line x1="435" y1="1254.9" x2="488" y2="1254.9" stroke="#000" stroke-width="7.5"/>
<line x1="2416" y1="1254.9" x2="2363" y2="1254.9" stroke="#000" stroke-width="7.5"/>
<line x1="435" y1="1220.6" x2="466" y2="1220.6" stroke="#000" stroke-width="3"/>
<line x1="2416" y1="1220.6" x2="2385" y2="1220.6" stroke="#000" stroke-width="3"/>
<line x1="435" y1="1186.3" x2="466" y2="1186.3" stroke="#000" stroke-width="3"/>
<line x1="2416" y1="1186.3" x2="2385" y2="1186.3" stroke="#000" stroke-width="3"/>
<line x1="435" y1="1152.0" x2="466" y2="1152.0" stroke="#000" stroke-width="3"/>
<line x1="2416" y1="1152.0" x2="2385" y2="1152.0" stroke="#000" stroke-width="3"/>
<line x1="435" y1="1117.7" x2="466" y2="1117.7" stroke="#000" stroke-width="3"/>
<line x1="2416" y1="1117.7" x2="2385" y2="1117.7" stroke="#000" stroke-width="3"/>
<line x1="435" y1="1083.4" x2="488" y2="1083.4" stroke="#000" stroke-width="7.5"/>
<line x1="2416" y1="1083.4" x2="2363" y2="1083.4" stroke="#000" stroke-width="7.5"/>
<line x1="435" y1="1049.1" x2="466" y2="1049.1" stroke="#000" stroke-width="3"/>
<line x1="2416" y1="1049.1" x2="2385" y2="1049.1" stroke="#000" stroke-width="3"/>
<line x1="435" y1="1014.8" x2="466" y2="1014.8" stroke="#000" stroke-width="3"/>
<line x1="2416" y1="1014.8" x2="2385" y2="1014.8" stroke="#000" stroke-width="3"/>
<line x1="435" y1="980.4" x2="466" y2="980.4" stroke="#000" stroke-width="3"/>
<line x1="2416" y1="980.4" x2="2385" y2="980.4" stroke="#000" stroke-width="3"/>
<line x1="435" y1="946.1" x2="466" y2="946.1" stroke="#000" stroke-width="3"/>
<line x1="2416" y1="946.1" x2="2385" y2="946.1" stroke="#000" stroke-width="3"/>
<line x1="435" y1="911.8" x2="488" y2="911.8" stroke="#000" stroke-width="7.5"/>
<line x1="2416" y1="911.8" x2="2363" y2="911.8" stroke="#000" stroke-width="7.5"/>
<line x1="435" y1="877.5" x2="466" y2="877.5" stroke="#000" stroke-width="3"/>
<line x1="2416" y1="877.5" x2="2385" y2="877.5" stroke="#000" stroke-width="3"/>
<line x1="435" y1="843.2" x2="466" y2="843.2" stroke="#000" stroke-width="3"/>
<line x1="2416" y1="843.2" x2="2385" y2="843.2" stroke="#000" stroke-width="3"/>
<line x1="435" y1="808.9" x2="466" y2="808.9" stroke="#000" stroke-width="3"/>
<line x1="2416" y1="808.9" x2="2385" y2="808.9" stroke="#000" stroke-width="3"/>
<line x1="435" y1="774.6" x2="466" y2="774.6" stroke="#000" stroke-width="3"/>
<line x1="2416" y1="774.6" x2="2385" y2="774.6" stroke="#000" stroke-width="3"/>
<line x1="435" y1="740.2" x2="488" y2="740.2" stroke="#000" stroke-width="7.5"/>
<line x1="2416" y1="740.2" x2="2363" y2="740.2" stroke="#000" stroke-width="7.5"/>
<line x1="435" y1="705.9" x2="466" y2="705.9" stroke="#000" stroke-width="3"/>
<line x1="2416" y1="705.9" x2="2385" y2="705.9" stroke="#000" stroke-width="3"/>
<line x1="435" y1="671.6" x2="466" y2="671.6" stroke="#000" stroke-width="3"/>
<line x1="2416" y1="671.6" x2="2385" y2="671.6" stroke="#000" stroke-width="3"/>
<line x1="435" y1="637.3" x2="466" y2="637.3" stroke="#000" stroke-width="3"/>
<line x1="2416" y1="637.3" x2="2385" y2="637.3" stroke="#000" stroke-width="3"/>
<line x1="435" y1="603.0" x2="466" y2="603.0" stroke="#000" stroke-width="3"/>
<line x1="2416" y1="603.0" x2="2385" y2="603.0" stroke="#000" stroke-width="3"/>
<line x1="435" y1="568.7" x2="488" y2="568.7" stroke="#000" stroke-width="7.5"/>
<line x1="2416" y1="568.7" x2="2363" y2="568.7" stroke="#000" stroke-width="7.5"/>
<line x1="435" y1="534.4" x2="466" y2="534.4" stroke="#000" stroke-width="3"/>
<line x1="2416" y1="534.4" x2="2385" y2="534.4" stroke="#000" stroke-width="3"/>
<line x1="435" y1="500.1" x2="466" y2="500.1" stroke="#000" stroke-width="3"/>
<line x1="2416" y1="500.1" x2="2385" y2="500.1" stroke="#000" stroke-width="3"/>
<line x1="435" y1="465.8" x2="466" y2="465.8" stroke="#000" stroke-width="3"/>
<line x1="2416" y1="465.8" x2="2385" y2="465.8" stroke="#000" stroke-width="3"/>
<line x1="435" y1="431.4" x2="466" y2="431.4" stroke="#000" stroke-width="3"/>
<line x1="2416" y1="431.4" x2="2385" y2="431.4" stroke="#000" stroke-width="3"/>
<line x1="435" y1="397.1" x2="488" y2="397.1" stroke="#000" stroke-width="7.5"/>
<line x1="2416" y1="397.1" x2="2363" y2="397.1" stroke="#000" stroke-width="7.5"/>
<line x1="435" y1="362.8" x2="466" y2="362.8" stroke="#000" stroke-width="3"/>
<line x1="2416" y1="362.8" x2="2385" y2="362.8" stroke="#000" stroke-width="3"/>
<line x1="435" y1="328.5" x2="466" y2="328.5" stroke="#000" stroke-width="3"/>
<line x1="2416" y1="328.5" x2="2385" y2="328.5" stroke="#000" stroke-width="3"/>
<line x1="435" y1="294.2" x2="466" y2="294.2" stroke="#000" stroke-width="3"/>
<line x1="2416" y1="294.2" x2="2385" y2="294.2" stroke="#000" stroke-width="3"/>
<line x1="435" y1="259.9" x2="466" y2="259.9" stroke="#000" stroke-width="3"/>
<line x1="2416" y1="259.9" x2="2385" y2="259.9" stroke="#000" stroke-width="3"/>
<line x1="435" y1="225.6" x2="488" y2="225.6" stroke="#000" stroke-width="7.5"/>
<line x1="2416" y1="225.6" x2="2363" y2="225.6" stroke="#000" stroke-width="7.5"/>
<line x1="435" y1="191.2" x2="466" y2="191.2" stroke="#000" stroke-width="3"/>
<line x1="2416" y1="191.2" x2="2385" y2="191.2" stroke="#000" stroke-width="3"/>
<line x1="435" y1="156.9" x2="466" y2="156.9" stroke="#000" stroke-width="3"/>
<line x1="2416" y1="156.9" x2="2385" y2="156.9" stroke="#000" stroke-width="3"/>
<line x1="435" y1="122.6" x2="466" y2="122.6" stroke="#000" stroke-width="3"/>
<line x1="2416" y1="122.6" x2="2385" y2="122.6" stroke="#000" stroke-width="3"/>
<line x1="435" y1="88.3" x2="466" y2="88.3" stroke="#000" stroke-width="3"/>
<line x1="2416" y1="88.3" x2="2385" y2="88.3" stroke="#000" stroke-width="3"/>
<line x1="501.2" y1="1426.5" x2="501.2" y2="1396" stroke="#000" stroke-width="3.5"/>
<line x1="567.3" y1="1426.5" x2="567.3" y2="1396" stroke="#000" stroke-width="3.5"/>
<line x1="633.3" y1="1426.5" x2="633.3" y2="1396" stroke="#000" stroke-width="3.5"/>
<line x1="699.3" y1="1426.5" x2="699.3" y2="1396" stroke="#000" stroke-width="3.5"/>
<line x1="765.3" y1="1426.5" x2="765.3" y2="1374" stroke="#000" stroke-width="7.5"/>
<line x1="831.4" y1="1426.5" x2="831.4" y2="1396" stroke="#000" stroke-width="3.5"/>
<line x1="897.4" y1="1426.5" x2="897.4" y2="1396" stroke="#000" stroke-width="3.5"/>
<line x1="963.4" y1="1426.5" x2="963.4" y2="1396" stroke="#000" stroke-width="3.5"/>
<line x1="1029.4" y1="1426.5" x2="1029.4" y2="1396" stroke="#000" stroke-width="3.5"/>
<line x1="1095.5" y1="1426.5" x2="1095.5" y2="1374" stroke="#000" stroke-width="7.5"/>
<line x1="1161.5" y1="1426.5" x2="1161.5" y2="1396" stroke="#000" stroke-width="3.5"/>
<line x1="1227.5" y1="1426.5" x2="1227.5" y2="1396" stroke="#000" stroke-width="3.5"/>
<line x1="1293.5" y1="1426.5" x2="1293.5" y2="1396" stroke="#000" stroke-width="3.5"/>
<line x1="1359.6" y1="1426.5" x2="1359.6" y2="1396" stroke="#000" stroke-width="3.5"/>
<line x1="1425.6" y1="1426.5" x2="1425.6" y2="1374" stroke="#000" stroke-width="7.5"/>
<line x1="1491.6" y1="1426.5" x2="1491.6" y2="1396" stroke="#000" stroke-width="3.5"/>
<line x1="1557.7" y1="1426.5" x2="1557.7" y2="1396" stroke="#000" stroke-width="3.5"/>
<line x1="1623.7" y1="1426.5" x2="1623.7" y2="1396" stroke="#000" stroke-width="3.5"/>
<line x1="1689.7" y1="1426.5" x2="1689.7" y2="1396" stroke="#000" stroke-width="3.5"/>
<line x1="1755.7" y1="1426.5" x2="1755.7" y2="1374" stroke="#000" stroke-width="7.5"/>
<line x1="1821.8" y1="1426.5" x2="1821.8" y2="1396" stroke="#000" stroke-width="3.5"/>
<line x1="1887.8" y1="1426.5" x2="1887.8" y2="1396" stroke="#000" stroke-width="3.5"/>
<line x1="1953.8" y1="1426.5" x2="1953.8" y2="1396" stroke="#000" stroke-width="3.5"/>
<line x1="2019.8" y1="1426.5" x2="2019.8" y2="1396" stroke="#000" stroke-width="3.5"/>
<line x1="2085.9" y1="1426.5" x2="2085.9" y2="1374" stroke="#000" stroke-width="7.5"/>
<line x1="2151.9" y1="1426.5" x2="2151.9" y2="1396" stroke="#000" stroke-width="3.5"/>
<line x1="2217.9" y1="1426.5" x2="2217.9" y2="1396" stroke="#000" stroke-width="3.5"/>
<line x1="2283.9" y1="1426.5" x2="2283.9" y2="1396" stroke="#000" stroke-width="3.5"/>
<line x1="2350.0" y1="1426.5" x2="2350.0" y2="1396" stroke="#000" stroke-width="3.5"/>
<rect x="435.2" y="54" width="1980.8" height="1372.5" fill="none" stroke="#000" stroke-width="8.5"/>
<rect x="1216" y="100" width="1114" height="281" fill="#fff" stroke="#000" stroke-width="2.6"/>
<line x1="1226" y1="172.7" x2="1545" y2="172.7" stroke="#da3535" stroke-width="10" stroke-dasharray="3.6 7.6"/>
<line x1="1226.5" y1="256.8" x2="1553" y2="256.8" stroke="#2f2fff" stroke-width="9.5" stroke-dasharray="67 17.5 7 17.5 7 18"/>
<line x1="1226.5" y1="340.4" x2="1552" y2="340.4" stroke="#000" stroke-width="9"/>
<text x="1605.5" y="193" font-family="'Liberation Serif', 'Times New Roman', serif" font-size="72.1" fill="#000">Helium Gas</text>
<text x="1605.5" y="277.3" font-family="'Liberation Serif', 'Times New Roman', serif" font-size="72.1" fill="#000">Particle (Ranz-Marshall)</text>
<text x="1605.5" y="361.7" font-family="'Liberation Serif', 'Times New Roman', serif" font-size="72.1" fill="#000">Particle (Kavanau)</text>
<text x="407" y="1461.0" text-anchor="end" font-family="'Liberation Serif', 'Times New Roman', serif" font-size="104" fill="#000">0</text>
<text x="407" y="1289.4" text-anchor="end" font-family="'Liberation Serif', 'Times New Roman', serif" font-size="104" fill="#000">100</text>
<text x="407" y="1117.9" text-anchor="end" font-family="'Liberation Serif', 'Times New Roman', serif" font-size="104" fill="#000">200</text>
<text x="407" y="946.3" text-anchor="end" font-family="'Liberation Serif', 'Times New Roman', serif" font-size="104" fill="#000">300</text>
<text x="407" y="774.8" text-anchor="end" font-family="'Liberation Serif', 'Times New Roman', serif" font-size="104" fill="#000">400</text>
<text x="407" y="603.2" text-anchor="end" font-family="'Liberation Serif', 'Times New Roman', serif" font-size="104" fill="#000">500</text>
<text x="407" y="431.6" text-anchor="end" font-family="'Liberation Serif', 'Times New Roman', serif" font-size="104" fill="#000">600</text>
<text x="407" y="260.1" text-anchor="end" font-family="'Liberation Serif', 'Times New Roman', serif" font-size="104" fill="#000">700</text>
<text x="407" y="88.5" text-anchor="end" font-family="'Liberation Serif', 'Times New Roman', serif" font-size="104" fill="#000">800</text>
<text x="434.7" y="1520" text-anchor="middle" font-family="'Liberation Serif', 'Times New Roman', serif" font-size="104" fill="#000">0</text>
<text x="764.8" y="1520" text-anchor="middle" font-family="'Liberation Serif', 'Times New Roman', serif" font-size="104" fill="#000">5</text>
<text x="1095.0" y="1520" text-anchor="middle" font-family="'Liberation Serif', 'Times New Roman', serif" font-size="104" fill="#000">10</text>
<text x="1425.1" y="1520" text-anchor="middle" font-family="'Liberation Serif', 'Times New Roman', serif" font-size="104" fill="#000">15</text>
<text x="1755.2" y="1520" text-anchor="middle" font-family="'Liberation Serif', 'Times New Roman', serif" font-size="104" fill="#000">20</text>
<text x="2085.4" y="1520" text-anchor="middle" font-family="'Liberation Serif', 'Times New Roman', serif" font-size="104" fill="#000">25</text>
<text x="2415.5" y="1520" text-anchor="middle" font-family="'Liberation Serif', 'Times New Roman', serif" font-size="104" fill="#000">30</text>
<text x="1426.5" y="1637.6" text-anchor="middle" font-family="'Liberation Serif', 'Times New Roman', serif" font-size="93.1" fill="#000">Axial Location (mm)</text>
<text transform="translate(84.6,738.9) rotate(-90)" text-anchor="middle" font-family="'Liberation Serif', 'Times New Roman', serif" font-size="97.5" fill="#000" textLength="608" lengthAdjust="spacingAndGlyphs">Temperature (K)</text>
</svg>
</body></html>
